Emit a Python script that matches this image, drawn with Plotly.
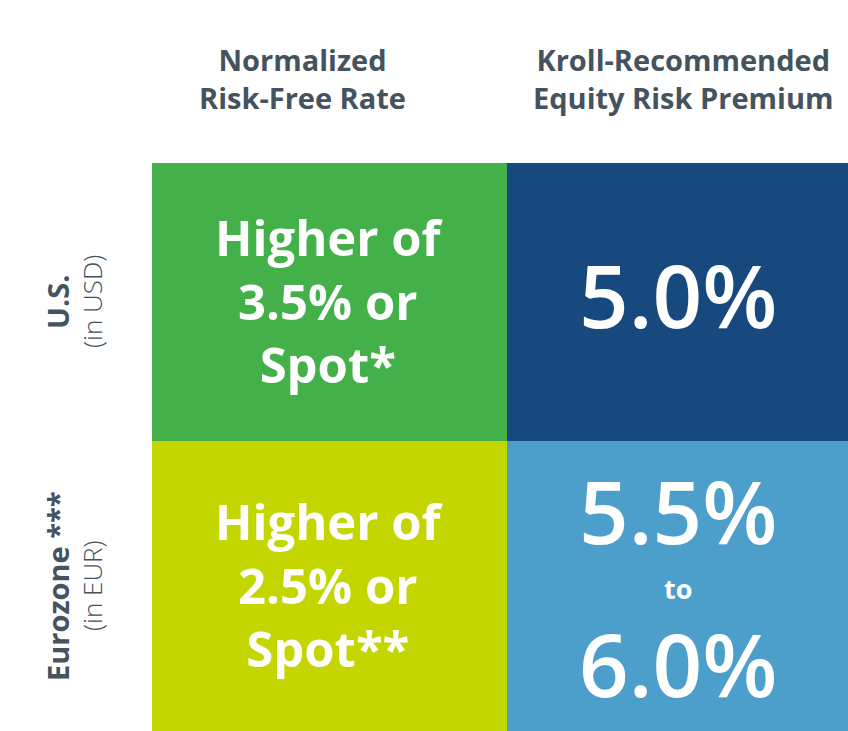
import plotly.graph_objects as go

# ---- data ----
regions = ["U.S.", "Eurozone ***"]
currencies = ["(in USD)", "(in EUR)"]
measures = ["Normalized<br>Risk-Free Rate", "Kroll-Recommended<br>Equity Risk Premium"]
rf_text = ["Higher of<br>3.5% or<br>Spot*", "Higher of<br>2.5% or<br>Spot**"]
erp_low = ["5.0%", "5.5%"]
erp_high = [None, "6.0%"]
erp_joiner = "to"
cell_index = [[0, 1], [2, 3]]

# ---- style ----
cell_colors = ["#43b04a", "#17497e", "#c4d600", "#4b9fca"]
TXT = "#44535e"
FONT = "Open Sans"
W, H = 848, 731
col_edges = [0, 355, 696]
row_edges = [0, 278, 568]

colorscale = [[i / 3, c] for i, c in enumerate(cell_colors)]

fig = go.Figure(go.Heatmap(
    z=cell_index, x=col_edges, y=row_edges,
    colorscale=colorscale, zmin=0, zmax=3, showscale=False,
    hoverinfo="skip", xgap=0, ygap=0,
))

xc = [(col_edges[i] + col_edges[i + 1]) / 2 for i in range(2)]
yc = [(row_edges[i] + row_edges[i + 1]) / 2 for i in range(2)]

ann = []
# column headers
hdr_dx = [-27, 5]
for j, m in enumerate(measures):
    ann.append(dict(x=xc[j], xref="x", xshift=hdr_dx[j], y=1 - 79 / H, yref="paper",
                    text=m, showarrow=False, xanchor="center", yanchor="middle",
                    font=dict(family=FONT, size=29, color=TXT, weight=700)))
# row labels
for i in range(2):
    ann.append(dict(x=57 / W, xref="paper", y=yc[i], yref="y", text=regions[i],
                    textangle=-90, showarrow=False, xanchor="center", yanchor="middle",
                    font=dict(family=FONT, size=29, color=TXT, weight=700)))
    ann.append(dict(x=92 / W, xref="paper", y=yc[i], yref="y", text=currencies[i],
                    textangle=-90, showarrow=False, xanchor="center", yanchor="middle",
                    font=dict(family=FONT, size=26, color=TXT, weight=300)))
# risk-free text
for i in range(2):
    ann.append(dict(x=xc[0], y=yc[i], xref="x", yref="y", text=rf_text[i],
                    showarrow=False, xanchor="center", yanchor="middle", yshift=2,
                    font=dict(family=FONT, size=49, color="white", weight=700)))
# ERP text
for i in range(2):
    if erp_high[i] is None:
        ann.append(dict(x=xc[1], y=yc[i], xref="x", yref="y", text=erp_low[i],
                        showarrow=False, xanchor="center", yanchor="middle", yshift=8,
                        borderpad=0,
                        font=dict(family=FONT, size=87, color="white", weight=600)))
    else:
        ann.append(dict(x=xc[1], y=yc[i], xref="x", yref="y", text=erp_low[i],
                        showarrow=False, xanchor="center", yanchor="middle", yshift=76,
                        borderpad=0,
                        font=dict(family=FONT, size=87, color="white", weight=600)))
        ann.append(dict(x=xc[1], y=yc[i], xref="x", yref="y", text=erp_joiner,
                        showarrow=False, xanchor="center", yanchor="middle", yshift=-2,
                        borderpad=0,
                        font=dict(family=FONT, size=27, color="white", weight=700)))
        ann.append(dict(x=xc[1], y=yc[i], xref="x", yref="y", text=erp_high[i],
                        showarrow=False, xanchor="center", yanchor="middle", yshift=-77,
                        borderpad=0,
                        font=dict(family=FONT, size=87, color="white", weight=600)))

fig.update_layout(
    width=W, height=H, margin=dict(l=0, r=0, t=0, b=0),
    paper_bgcolor="white", plot_bgcolor="white",
    xaxis=dict(domain=[152 / W, 1], range=[col_edges[0], col_edges[-1]], visible=False, fixedrange=True),
    yaxis=dict(domain=[0, (H - 163) / H], range=[row_edges[-1], row_edges[0]], visible=False, fixedrange=True),
    annotations=ann,
)
fig.write_html(
    "out.html",
    config={"displayModeBar": False},
    post_script="document.body.style.margin='0';document.body.style.overflow='hidden';",
)
